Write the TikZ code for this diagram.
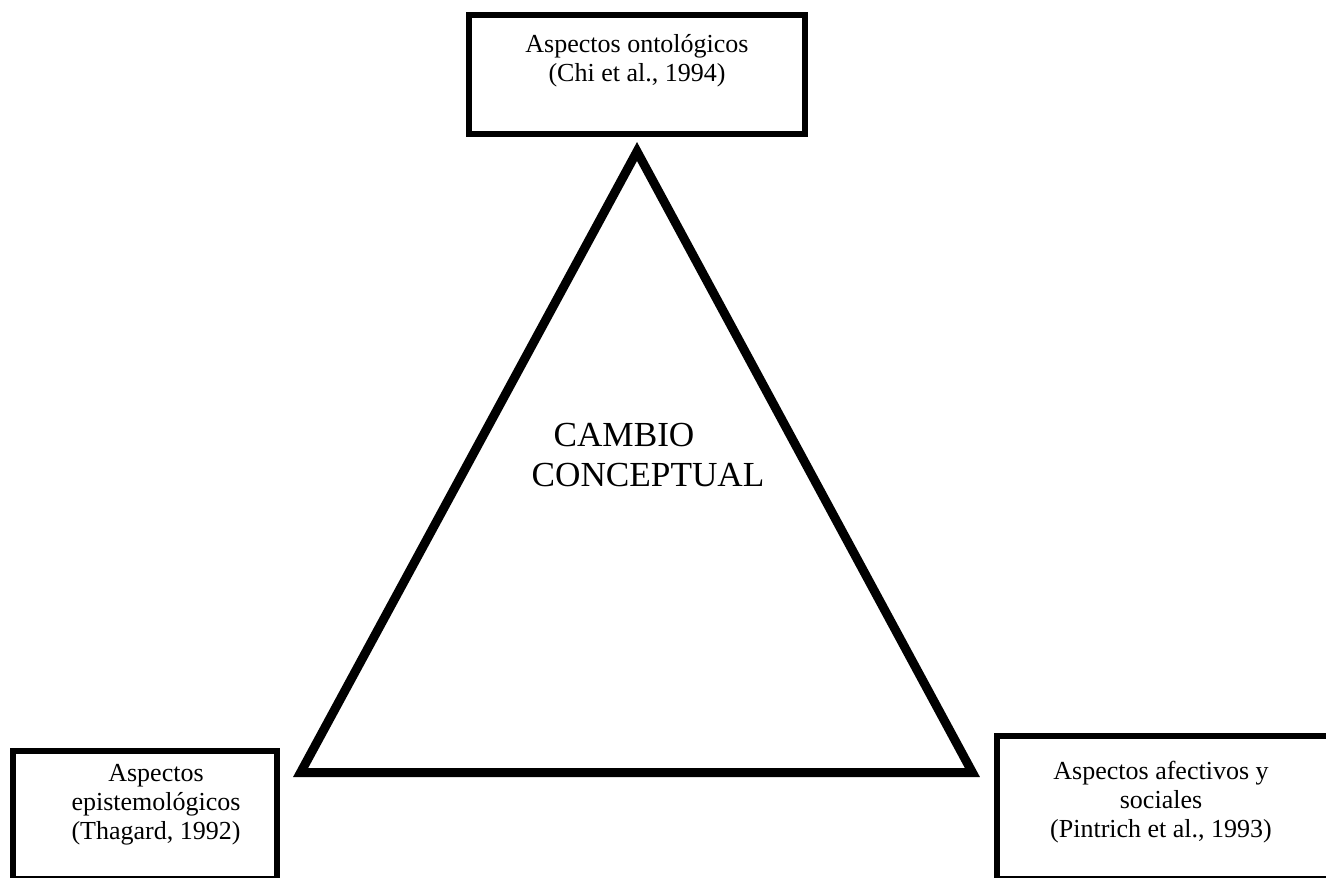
\documentclass[tikz,border=0pt]{standalone}
\usepackage{fontspec}
\setmainfont{Liberation Serif}
\tikzset{
  boxframe/.style={draw=black, line width=3pt, rectangle, inner sep=0pt, fill=white},
  boxtext/.style={align=center, inner sep=0pt, font=\fontsize{13}{14.6}\selectfont},
  bigtext/.style={align=center, inner sep=0pt, font=\fontsize{17.6}{20}\selectfont},
  triline/.style={draw=black, line width=4.5pt, line join=miter, miter limit=10}
}
\begin{document}
\begin{tikzpicture}[x=0.5pt,y=-0.5pt]
\useasboundingbox (0,0) rectangle (1326,877);
\fill[white] (0,0) rectangle (1326,877);
\begin{scope}
\clip (0,0) rectangle (1326,877);
% triangle
\coordinate (apex) at (637,151.5);
\coordinate (bl) at (300.6,772.5);
\coordinate (br) at (972.4,772.5);
\draw[triline] (apex) -- (bl) -- (br) -- cycle;
% boxes
\node[boxframe, minimum width=168pt, minimum height=59.5pt] (onto) at (637,74.5) {};
\node[boxframe, minimum width=132pt, minimum height=64pt] (epis) at (145,815) {};
\node[boxframe, minimum width=171.5pt, minimum height=71.5pt] (afec) at (1168.5,807.5) {};
% texts
\node[boxtext] (ontot) at (637,61) {Aspectos ontológicos\\(Chi et al., 1994)};
\node[boxtext] (epist) at (156,805) {Aspectos\\epistemológicos\\(Thagard, 1992)};
\node[boxtext] (afect) at (1161,802) {Aspectos afectivos y\\sociales\\(Pintrich et al., 1993)};
\node[bigtext] (cambio) at (648,455) {CAMBIO\hspace*{24pt}\\CONCEPTUAL};
\end{scope}
\end{tikzpicture}
\end{document}
